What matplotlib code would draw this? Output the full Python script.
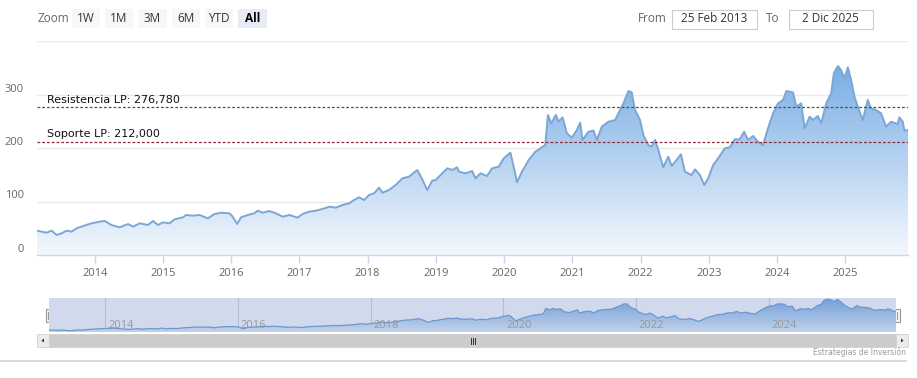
import numpy as np
import matplotlib
matplotlib.use("Agg")
import matplotlib.pyplot as plt
from matplotlib.patches import Rectangle, Polygon
from matplotlib.colors import LinearSegmentedColormap
import matplotlib.transforms as mtransforms

plt.rcParams['font.family'] = ['Open Sans', 'DejaVu Sans']

# ---------------- data ----------------
dates = [2013.153, 2013.293, 2013.367, 2013.440, 2013.513, 2013.586, 2013.659, 2013.732, 2013.829, 2013.951,
         2014.073, 2014.146, 2014.244, 2014.365, 2014.487, 2014.560, 2014.658, 2014.780, 2014.853, 2014.926,
         2015.000, 2015.096, 2015.170, 2015.291, 2015.340, 2015.438, 2015.535, 2015.657, 2015.754, 2015.852,
         2015.974, 2016.022, 2016.086, 2016.144, 2016.242, 2016.339, 2016.388, 2016.461, 2016.558, 2016.656,
         2016.753, 2016.851, 2016.973, 2017.046, 2017.143, 2017.241, 2017.338, 2017.436, 2017.533, 2017.631,
         2017.728, 2017.801, 2017.874, 2017.947, 2018.020, 2018.094, 2018.167, 2018.215, 2018.313, 2018.410,
         2018.508, 2018.605, 2018.727, 2018.800, 2018.873, 2018.946, 2018.995, 2019.068, 2019.166, 2019.239,
         2019.312, 2019.336, 2019.434, 2019.531, 2019.580, 2019.653, 2019.750, 2019.823, 2019.921, 2019.994,
         2020.092, 2020.140, 2020.189, 2020.262, 2020.360, 2020.457, 2020.530, 2020.603, 2020.642, 2020.691,
         2020.759, 2020.798, 2020.857, 2020.920, 2020.993, 2021.066, 2021.115, 2021.149, 2021.237, 2021.310,
         2021.359, 2021.432, 2021.529, 2021.627, 2021.675, 2021.749, 2021.822, 2021.870, 2021.919, 2021.992,
         2022.041, 2022.114, 2022.163, 2022.212, 2022.260, 2022.333, 2022.406, 2022.455, 2022.528, 2022.592,
         2022.650, 2022.748, 2022.797, 2022.870, 2022.933, 2022.991, 2023.064, 2023.137, 2023.235, 2023.308,
         2023.381, 2023.454, 2023.518, 2023.576, 2023.649, 2023.722, 2023.795, 2023.868, 2023.942, 2024.015,
         2024.088, 2024.137, 2024.234, 2024.283, 2024.355, 2024.405, 2024.478, 2024.526, 2024.599, 2024.648,
         2024.721, 2024.794, 2024.833, 2024.892, 2024.940, 2024.989, 2025.038, 2025.087, 2025.135, 2025.184,
         2025.257, 2025.330, 2025.379, 2025.452, 2025.526, 2025.599, 2025.672, 2025.769, 2025.794, 2025.843,
         2025.867, 2025.920]

prices = [45.5, 41.7, 45.5, 37.4, 40.5, 45.5, 43.6, 49.8, 54.2, 59.2,
          62.3, 63.6, 56.1, 51.7, 57.9, 53.0, 59.2, 56.1, 63.6, 56.1,
          61.0, 59.2, 66.7, 70.4, 74.8, 73.5, 74.8, 68.5, 76.6, 79.1,
          77.9, 71.6, 57.9, 70.4, 74.8, 77.9, 82.9, 79.1, 82.2, 77.9,
          71.6, 74.8, 69.8, 76.6, 81.0, 82.9, 86.0, 90.3, 88.5, 93.5,
          96.6, 102.8, 107.8, 102.8, 112.1, 115.3, 125.9, 116.5, 121.5, 130.8,
          143.3, 146.4, 158.9, 141.4, 121.5, 139.0, 140.0, 149.5, 162.0, 158.9,
          163.9, 155.8, 152.6, 157.0, 143.3, 152.6, 147.7, 162.0, 165.1, 180.7,
          191.3, 165.1, 135.8, 155.8, 177.6, 193.1, 199.4, 205.6, 261.7, 246.1,
          261.7, 249.2, 257.3, 227.4, 219.3, 233.6, 247.4, 215.0, 230.5, 232.4,
          215.0, 239.9, 249.2, 252.3, 264.8, 283.5, 306.5, 304.0, 271.0, 252.3,
          224.3, 205.6, 202.5, 215.0, 196.3, 163.9, 183.8, 166.4, 177.6, 188.2,
          155.8, 149.5, 160.1, 149.5, 130.8, 143.3, 168.2, 180.7, 199.4, 201.2,
          216.2, 216.2, 230.5, 215.0, 222.4, 211.8, 205.6, 236.8, 264.8, 283.5,
          289.7, 306.5, 304.0, 277.3, 283.5, 236.8, 258.6, 252.3, 259.8, 246.1,
          283.5, 302.2, 339.6, 353.3, 345.8, 330.2, 350.8, 327.1, 296.0, 277.3,
          252.3, 289.7, 274.1, 271.0, 264.8, 239.9, 249.2, 244.9, 257.3, 249.2,
          232.4, 233.6]

resistance = 276.78
support = 212.0
resistance_label = "Resistencia LP: 276,780"
support_label = "Soporte LP: 212,000"
year_ticks = list(range(2014, 2026))
nav_year_ticks = list(range(2014, 2026, 2))
y_ticks = [0, 100, 200, 300]
zoom_buttons = ["1W", "1M", "3M", "6M", "YTD", "All"]
from_date = "25 Feb 2013"
to_date = "2 Dic 2025"
credit = "Estrategias de Inversión"

x = np.array(dates)
y = np.array(prices)

W, H = 917, 378
fig = plt.figure(figsize=(W / 100, H / 100), dpi=100)
fig.patch.set_facecolor('white')

def fx(px):
    return px / W

def fy(py):  # py measured from top
    return 1 - py / H

# ---------------- overlay axes for UI (pixel coords) ----------------
ov = fig.add_axes([0, 0, 1, 1], zorder=0)
ov.set_xlim(0, W)
ov.set_ylim(H, 0)
ov.axis('off')

# ---------------- main chart ----------------
left, right, top, bottom = 37, 908, 41, 255
ax = fig.add_axes([fx(left), fy(bottom), (right - left) / W, (bottom - top) / H], zorder=2)
ax.patch.set_alpha(0)
ax.set_xlim(x[0], x[-1])
ax.set_ylim(0, 400)

grad_cmap = LinearSegmentedColormap.from_list('g', ['#f4f8fd', '#76ace4'])

def gradient_fill(a, xs, ys, ymax, lw, lc):
    poly = a.fill_between(xs, ys, 0, facecolor='none', edgecolor='none')
    path = poly.get_paths()[0]
    grad = np.linspace(0, 1, 256).reshape(-1, 1)
    im = a.imshow(grad, extent=[xs[0], xs[-1], 0, ymax], origin='lower', aspect='auto',
                  cmap=grad_cmap, zorder=1, interpolation='bilinear')
    im.set_clip_path(path, transform=a.transData)
    a.plot(xs, ys, color=lc, lw=lw, zorder=3, solid_joinstyle='round')

gradient_fill(ax, x, y, 360, 1.4, '#7ba6d6')
ax.set_xlim(x[0], x[-1])
ax.set_ylim(0, 400)

for gv in [100, 200, 300, 400]:
    ax.axhline(gv, color='#e9e9e9', lw=1, zorder=0)

ax.axhline(resistance, color='#2d6a2d', lw=0.9, ls=(0, (2.2, 1.6)), zorder=4)
ax.axhline(support, color='#8e2a36', lw=0.9, ls=(0, (2.2, 1.6)), zorder=4)
off = mtransforms.offset_copy(ax.get_yaxis_transform(), fig=fig, x=7, y=1.5, units='points')
ax.text(0, resistance, resistance_label, transform=off, fontsize=8, color='#111111',
        family=['DejaVu Sans'], va='bottom', ha='left', zorder=5)
ax.text(0, support, support_label, transform=off, fontsize=8, color='#111111',
        family=['DejaVu Sans'], va='bottom', ha='left', zorder=5)

for s in ['top', 'right', 'left']:
    ax.spines[s].set_visible(False)
ax.spines['bottom'].set_color('#ccd6eb')
ax.spines['bottom'].set_linewidth(1)

ax.set_xticks(year_ticks)
ax.set_xticklabels([str(t) for t in year_ticks])
ax.tick_params(axis='x', length=6, width=1, color='#ccd6eb', labelcolor='#666666',
               labelsize=8, pad=3)
ax.set_yticks(y_ticks)
ax.set_yticklabels([str(t) for t in y_ticks])
ax.tick_params(axis='y', length=0, labelcolor='#666666', labelsize=8, pad=9.5)
for lab in ax.get_yticklabels():
    lab.set_verticalalignment('bottom')

# ---------------- navigator ----------------
nl, nr, nt, nb = 49, 896, 298, 332
nav = fig.add_axes([fx(nl), fy(nb), (nr - nl) / W, (nb - nt) / H], zorder=2)
nav.set_xlim(x[0], x[-1])
nav.set_ylim(25, 365)
nav.patch.set_facecolor('white')
for gx in nav_year_ticks:
    nav.axvline(gx, color='#d8d8d8', lw=0.8, zorder=0.5)
gradient_fill(nav, x, y, 365, 0.9, '#6f9fd6')
nav.set_xlim(x[0], x[-1])
nav.set_ylim(25, 365)
nav.axvspan(x[0], x[-1], color='#6685c2', alpha=0.3, lw=0, zorder=4)
for gx in nav_year_ticks:
    nav.text(gx, 0.03, str(gx), transform=nav.get_xaxis_transform(),
             fontsize=8, color='#999999', ha='left', va='bottom', zorder=5,
             bbox=dict(boxstyle='square,pad=0', fc='none', ec='none'))
nav.set_xticks([])
nav.set_yticks([])
for s in nav.spines.values():
    s.set_visible(False)
# navigator labels start slightly right of gridline
for t in nav.texts:
    t.set_transform(mtransforms.offset_copy(nav.get_xaxis_transform(), fig=fig, x=2, y=0, units='points'))

# handles
for hx in [nl, nr]:
    ov.add_patch(Rectangle((hx - 3.5, 309), 7, 13, fc='#f2f2f2', ec='#999999', lw=0.8, zorder=6))
    ov.plot([hx - 1, hx - 1], [312, 319], color='#999999', lw=0.7, zorder=7)
    ov.plot([hx + 1, hx + 1], [312, 319], color='#999999', lw=0.7, zorder=7)

# scrollbar
ov.add_patch(Rectangle((37, 334), 871, 13, fc='#f2f2f2', ec='none', zorder=1))
ov.add_patch(Rectangle((nl, 334), nr - nl, 13, fc='#cccccc', ec='#cccccc', lw=0.5, zorder=2))
ov.add_patch(Rectangle((37, 334), 12, 13, fc='#ebebeb', ec='#cccccc', lw=0.5, zorder=2))
ov.add_patch(Rectangle((nr, 334), 12, 13, fc='#ebebeb', ec='#cccccc', lw=0.5, zorder=2))
ov.add_patch(Polygon([[41.5, 340.5], [44, 338.5], [44, 342.5]], closed=True, fc='#333333', ec='none', zorder=3))
ov.add_patch(Polygon([[nr + 7.5, 340.5], [nr + 5, 338.5], [nr + 5, 342.5]], closed=True, fc='#333333', ec='none', zorder=3))
cx = (nl + nr) / 2
for dx in [-2, 0, 2]:
    ov.plot([cx + dx, cx + dx], [337.5, 343.5], color='#333333', lw=0.7, zorder=3)

# credit and separator
ov.text(906, 352.5, credit, fontsize=5.5, color='#999999', ha='right', va='center', family=['DejaVu Sans'])
ov.plot([0, 906], [360.5, 360.5], color='#cfd3dc', lw=1.2)

# ---------------- range selector ----------------
ov.text(37, 18, "Zoom", fontsize=8.5, color='#666666', ha='left', va='center')
bx = [72, 105, 138, 172, 205, 238]
bw = [28, 28, 29, 28, 28, 29]
for lab, b0, w in zip(zoom_buttons, bx, bw):
    sel = lab == "All"
    ov.add_patch(Rectangle((b0, 8.5), w, 19.5, fc='#e6ebf5' if sel else '#f7f7f7', ec='none'))
    ov.text(b0 + w / 2, 18, lab, fontsize=8.5, color='#000000' if sel else '#333333',
            fontweight='bold' if sel else 'normal', ha='center', va='center')

ov.text(638, 18, "From", fontsize=8.5, color='#666666', ha='left', va='center')
ov.add_patch(Rectangle((671.5, 9.5), 85, 19, fc='white', ec='#cccccc', lw=0.8))
ov.text(714, 18, from_date, fontsize=8.5, color='#333333', ha='center', va='center')
ov.text(766, 18, "To", fontsize=8.5, color='#666666', ha='left', va='center')
ov.add_patch(Rectangle((788.5, 9.5), 84, 19, fc='white', ec='#cccccc', lw=0.8))
ov.text(830.5, 18, to_date, fontsize=8.5, color='#333333', ha='center', va='center')

fig.savefig('out.png', dpi=100, facecolor='white')
